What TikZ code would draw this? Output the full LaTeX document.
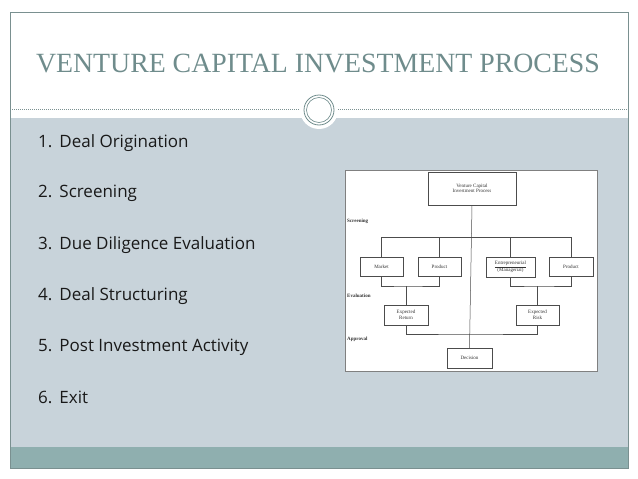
\documentclass[tikz,border=0pt]{standalone}
\usepackage{fontspec}
\setmainfont{Liberation Serif}
\newfontfamily\bodyf{Open Sans}
\definecolor{titlec}{HTML}{6F8C8C}
\definecolor{panel}{HTML}{C8D3DA}
\definecolor{band}{HTML}{8FAFAF}
\definecolor{framec}{HTML}{7A9090}
\newcommand\nsep{\hspace{7pt}}
\begin{document}
\begin{tikzpicture}[x=1pt,y=-1pt,
  item/.style={anchor=west,font=\bodyf\fontsize{17}{19}\selectfont,text=black!90,inner sep=0},
  bx/.style={draw=black!70,line width=0.5pt,fill=white,inner sep=0,align=center,font=\fontsize{5}{5.5}\selectfont,text=black!80},
  lab/.style={anchor=west,inner sep=0,font=\bfseries\fontsize{5}{5.5}\selectfont,text=black!80},
  ln/.style={draw=black!70,line width=0.5pt}]
\useasboundingbox (0,0) rectangle (638,479);
\fill[white] (0,0) rectangle (638,479);
\fill[panel] (10,118) rectangle (628,447);
\fill[band] (10,447) rectangle (628,468);
\draw[framec,line width=0.6pt] (10,12) rectangle (628,468);
\draw[framec,dashed,dash pattern=on 1pt off 1pt,line width=0.5pt] (10,109) -- (628,109);
\fill[white] (319,110) circle (19);
\draw[titlec,line width=0.8pt] (319,110) circle (15);
\draw[titlec,line width=0.6pt] (319,110) circle (12.5);
\node[text=titlec,font=\fontsize{27.8}{30}\selectfont] (title) at (318,64) {VENTURE CAPITAL INVESTMENT PROCESS};
\node[item] (i1) at (38,143) {1.\nsep Deal Origination};
\node[item] (i2) at (38,193) {2.\nsep Screening};
\node[item] (i3) at (38,245) {3.\nsep Due Diligence Evaluation};
\node[item] (i4) at (38,296) {4.\nsep Deal Structuring};
\node[item] (i5) at (38,347) {5.\nsep Post Investment Activity};
\node[item] (i6) at (38,397) {6.\nsep Exit};
% diagram
\draw[black!50,fill=white,line width=0.5pt] (345,170) rectangle (597,371);
\node[bx,minimum width=88,minimum height=33] (top) at (472,188.5) {Venture Capital\\Investment Process};
\node[bx,minimum width=43,minimum height=19] (mk) at (381.5,266.5) {Market};
\node[bx,minimum width=43,minimum height=19] (p1) at (439.5,266.5) {Product};
\node[bx,minimum width=49,minimum height=20] (en) at (510.5,267) {\underline{Entrepreneurial}\\(Managerial)};
\node[bx,minimum width=44,minimum height=19] (p2) at (571,266.5) {Product};
\node[bx,minimum width=44,minimum height=20] (er) at (406,315) {Expected\\Return};
\node[bx,minimum width=43,minimum height=20] (ek) at (537.5,315) {Expected\\Risk};
\node[bx,minimum width=45,minimum height=20] (dc) at (469.5,358) {Decision};
\node[lab] (l1) at (347,221) {Screening};
\node[lab] (l2) at (347,296) {Evaluation};
\node[lab] (l3) at (347,339) {Approval};
\draw[ln] (top.south) -- (dc.north);
\draw[ln] (mk.north) |- (381.5,237) -| (p2.north);
\draw[ln] (p1.north) -- (439.5,237);
\draw[ln] (en.north) -- (510.5,237);
\draw[ln] (mk.south) |- (406,286) -| (p1.south);
\draw[ln] (406,286) -- (er.north);
\draw[ln] (en.south) |- (537.5,286) -| (p2.south);
\draw[ln] (537.5,286) -- (ek.north);
\draw[ln] (er.south) |- (469.5,334) -| (ek.south);
\end{tikzpicture}
\end{document}
